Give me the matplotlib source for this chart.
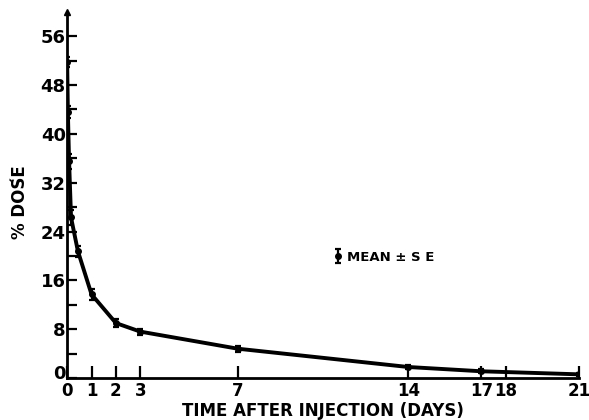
import numpy as np
import matplotlib.pyplot as plt
from matplotlib.transforms import ScaledTranslation

# time after injection (days) and % dose remaining
days = [0, 0.03, 0.08, 0.16, 0.44, 1, 2, 3, 7, 14, 17, 21]
dose = [51.8, 43.6, 35.5, 26.3, 20.8, 13.7, 9.0, 7.6, 4.8, 1.8, 1.1, 0.6]
dose_se = [0.8, 1.0, 1.2, 1.2, 0.9, 0.9, 0.6, 0.5, 0.5, 0.3, 0.3, 0.3]

x_ticks = [0, 1, 2, 3, 7, 14, 17, 18, 21]
x_labels = ["0", "1", "2", "3", "7", "14", "17", "18", "21"]
y_major = list(range(0, 57, 8))
y_minor = list(range(4, 57, 8))

plt.rcParams['font.family'] = ['DejaVu Sans']
plt.rcParams['font.weight'] = 'bold'

fig = plt.figure(figsize=(5.89, 4.20), dpi=100)
ax = fig.add_axes([0.114, 0.1, 0.869, 0.872])

ax.plot(days, dose, color='black', lw=2.8, solid_joinstyle='round')
ax.errorbar(days, dose, yerr=dose_se, fmt='o', color='black', ms=4,
            elinewidth=1.6, capsize=2.5, capthick=1.6, label='MEAN \u00b1 S E')

ax.set_xlim(0, 21)
ax.set_ylim(0, 60)
for s in ['top', 'right']:
    ax.spines[s].set_visible(False)
for s in ['left', 'bottom']:
    ax.spines[s].set_linewidth(2)

ax.set_xticks(x_ticks)
ax.set_xticklabels(x_labels)
ax.set_yticks(y_major)
ax.set_yticks(y_minor, minor=True)
ax.tick_params(axis='both', which='both', direction='in', width=1.6, colors='black')
ax.tick_params(axis='y', which='both', length=7, pad=1, labelsize=13)
ax.tick_params(axis='x', length=9, pad=3, labelsize=12)

# lift the y "0" a little so it sits above the x "0", as in the original
zero_lbl = ax.get_yticklabels()[0]
zero_lbl.set_transform(zero_lbl.get_transform() + ScaledTranslation(0, 4 / 72, fig.dpi_scale_trans))

# arrow at top of y axis
ax.plot(0, 1, marker='^', color='black', ms=5, transform=ax.transAxes, clip_on=False)

ax.set_xlabel('TIME AFTER INJECTION (DAYS)', fontsize=12, fontweight='bold', labelpad=1)
ax.set_ylabel('% DOS\u0301E', fontsize=12, fontweight='bold')
ax.yaxis.set_label_coords(-0.075, 0.48)

ax.legend(loc='center left', bbox_to_anchor=(0.5, 0.33), frameon=False,
          handlelength=0.5, handletextpad=0.4, fontsize=9.5)

plt.savefig('out.png', dpi=100)
plt.close()
